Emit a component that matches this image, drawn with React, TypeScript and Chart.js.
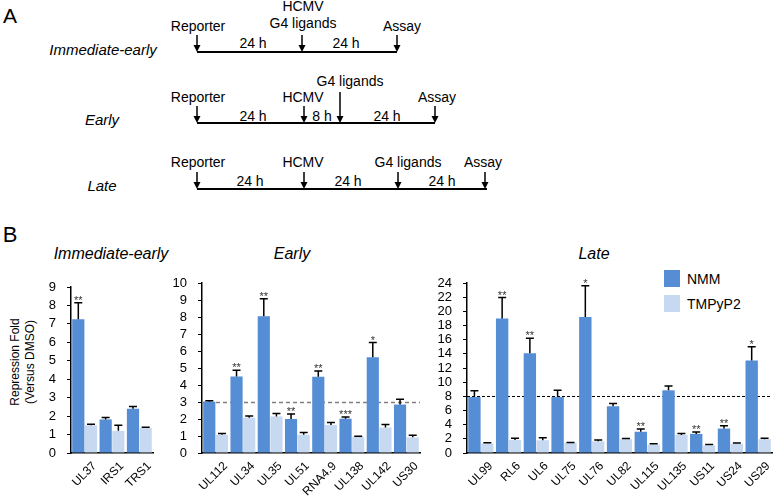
import React, { useEffect, useRef } from 'react';
import { Chart, registerables } from 'chart.js';

Chart.register(...registerables);

const FONT = "'Liberation Sans', Arial, Helvetica, sans-serif";
const NMM_COLOR = '#558ed5';
const TMP_COLOR = '#c6d9f1';

// ---- Immediate-early ----
const ieLabels = ['UL37', 'IRS1', 'TRS1'];
const ieNMM = [7.25, 1.82, 2.4];
const ieNMMTop = [8.15, 1.93, 2.52];
const ieTMP = [1.5, 1.2, 1.35];
const ieTMPTop = [1.56, 1.5, 1.4];
const ieStars = ['**', '', ''];

// ---- Early ----
const earlyLabels = ['UL112', 'UL34', 'UL35', 'UL51', 'RNA4.9', 'UL138', 'UL142', 'US30'];
const earlyNMM = [3.02, 4.5, 8.05, 2.0, 4.48, 2.02, 5.63, 2.85];
const earlyNMMTop = [3.07, 4.87, 9.08, 2.3, 4.83, 2.12, 6.5, 3.16];
const earlyTMP = [1.07, 2.08, 2.15, 1.07, 1.65, 0.95, 1.5, 0.92];
const earlyTMPTop = [1.15, 2.17, 2.32, 1.2, 1.8, 0.98, 1.67, 1.04];
const earlyStars = ['', '**', '**', '**', '**', '***', '*', ''];

// ---- Late ----
const lateLabels = ['UL99', 'RL6', 'UL6', 'UL75', 'UL76', 'UL82', 'UL115', 'UL135', 'US11', 'US24', 'US29'];
const lateNMM = [7.9, 19.0, 14.1, 7.9, 19.2, 6.6, 3.0, 8.85, 2.7, 3.45, 13.05];
const lateNMMTop = [8.8, 21.95, 16.2, 8.85, 23.6, 7.0, 3.4, 9.45, 2.95, 3.85, 15.0];
const lateTMP = [1.35, 1.85, 1.8, 1.45, 1.65, 1.95, 1.2, 2.55, 1.08, 1.3, 1.95];
const lateTMPTop = [1.45, 2.1, 2.15, 1.5, 1.85, 2.05, 1.3, 2.75, 1.2, 1.4, 2.1];
const lateStars = ['', '**', '**', '', '*', '', '**', '', '**', '**', '*'];

const seriesNames = ['NMM', 'TMPyP2'];

const CANVAS_TOP = 240;
const CANVAS_H = 261;
const canvasLefts = [0, 150, 420];
const canvasWidths = [156, 272, 354];

function overlayPlugin(
  nmmTop: number[],
  tmpTop: number[],
  stars: string[],
  refValue: number | null,
  refColor: string,
  refDash: number[],
  refWidth: number
) {
  return {
    id: 'overlay',
    beforeDatasetsDraw(chart: any) {
      if (refValue === null) return;
      const ctx = chart.ctx;
      const area = chart.chartArea;
      const py = Math.round(chart.scales.y.getPixelForValue(refValue)) + 0.5;
      ctx.save();
      ctx.strokeStyle = refColor;
      ctx.lineWidth = refWidth;
      ctx.setLineDash(refDash);
      ctx.beginPath();
      ctx.moveTo(area.left, py);
      ctx.lineTo(area.right, py);
      ctx.stroke();
      ctx.restore();
    },
    afterDatasetsDraw(chart: any) {
      const ctx = chart.ctx;
      const ys = chart.scales.y;
      ctx.save();
      ctx.strokeStyle = '#000';
      ctx.lineWidth = 1.5;
      [nmmTop, tmpTop].forEach((tops, d) => {
        const meta = chart.getDatasetMeta(d);
        meta.data.forEach((el: any, i: number) => {
          const x = el.x;
          const yBar = el.y;
          const yErr = ys.getPixelForValue(tops[i]);
          ctx.beginPath();
          ctx.moveTo(x, yBar);
          ctx.lineTo(x, yErr);
          ctx.moveTo(x - 4, yErr);
          ctx.lineTo(x + 4, yErr);
          ctx.stroke();
        });
      });
      const meta0 = chart.getDatasetMeta(0);
      ctx.fillStyle = '#333';
      ctx.font = `11px ${FONT}`;
      ctx.textAlign = 'center';
      ctx.textBaseline = 'alphabetic';
      meta0.data.forEach((el: any, i: number) => {
        if (!stars[i]) return;
        const yErr = ys.getPixelForValue(nmmTop[i]);
        ctx.fillText(stars[i], el.x, yErr + 1);
      });
      ctx.restore();
    },
  };
}

function makeConfig(
  labels: string[],
  nmm: number[],
  tmp: number[],
  yMax: number,
  step: number,
  yw: number,
  xh: number,
  pt: number,
  pr: number,
  plugin: any
): any {
  return {
    type: 'bar',
    data: {
      labels,
      datasets: [
        { label: seriesNames[0], data: nmm, backgroundColor: NMM_COLOR, barPercentage: 0.96, categoryPercentage: 0.93 },
        { label: seriesNames[1], data: tmp, backgroundColor: TMP_COLOR, barPercentage: 0.96, categoryPercentage: 0.93 },
      ],
    },
    options: {
      responsive: false,
      animation: false,
      devicePixelRatio: 1,
      layout: { padding: { top: pt, right: pr, left: 0, bottom: 0 } },
      plugins: { legend: { display: false }, tooltip: { enabled: false } },
      scales: {
        x: {
          grid: { display: false, drawTicks: false },
          border: { display: true, color: '#000', width: 1.5 },
          ticks: {
            color: '#000',
            font: { size: 12, family: FONT },
            minRotation: 45,
            maxRotation: 45,
            autoSkip: false,
            padding: 6,
            labelOffset: 10,
          },
          afterCalculateLabelRotation: (s: any) => {
            s.labelRotation = 45;
          },
          afterFit: (s: any) => {
            s.height = xh;
            s.paddingLeft = 0;
            s.paddingRight = 0;
          },
        },
        y: {
          min: 0,
          max: yMax,
          ticks: { stepSize: step, autoSkip: false, color: '#000', font: { size: 13, family: FONT }, padding: 11 },
          grid: { display: true, drawOnChartArea: false, drawTicks: true, tickLength: 4, color: '#000' },
          border: { display: true, color: '#000', width: 1.5 },
          afterFit: (s: any) => {
            s.width = yw;
            s.paddingTop = 0;
            s.paddingBottom = 0;
          },
        },
      },
    },
    plugins: [plugin],
  };
}

const Arrow = ({ x, y1, y2 }: { x: number; y1: number; y2: number }) => (
  <g>
    <line x1={x} y1={y1} x2={x} y2={y2 - 6} stroke="#000" strokeWidth={1.5} />
    <polygon points={`${x - 3.5},${y2 - 7} ${x + 3.5},${y2 - 7} ${x},${y2}`} fill="#000" />
  </g>
);

const T = ({ x, y, children, size = 14, italic = false, anchor = 'middle' }: any) => (
  <text
    x={x}
    y={y}
    textAnchor={anchor}
    dominantBaseline="central"
    fontSize={size}
    fontStyle={italic ? 'italic' : 'normal'}
    fill="#000"
    fontFamily={FONT}
  >
    {children}
  </text>
);

export default function App() {
  const r1 = useRef<HTMLCanvasElement>(null);
  const r2 = useRef<HTMLCanvasElement>(null);
  const r3 = useRef<HTMLCanvasElement>(null);

  useEffect(() => {
    const charts = [
      new Chart(
        r1.current!,
        makeConfig(ieLabels, ieNMM, ieTMP, 9, 1, 71, 48, 47, 3,
          overlayPlugin(ieNMMTop, ieTMPTop, ieStars, null, '#000', [], 1))
      ),
      new Chart(
        r2.current!,
        makeConfig(earlyLabels, earlyNMM, earlyTMP, 10, 1, 52, 48, 43, 2,
          overlayPlugin(earlyNMMTop, earlyTMPTop, earlyStars, 3, '#808080', [4, 3], 1.5))
      ),
      new Chart(
        r3.current!,
        makeConfig(lateLabels, lateNMM, lateTMP, 24, 2, 47, 48, 43, 2,
          overlayPlugin(lateNMMTop, lateTMPTop, lateStars, 8, '#000', [3, 2], 1))
      ),
    ];
    return () => charts.forEach((c) => c.destroy());
  }, []);

  const cv = (ci: number) => ({
    position: 'absolute' as const,
    left: canvasLefts[ci],
    top: CANVAS_TOP,
    width: canvasWidths[ci],
    height: CANVAS_H,
  });

  return (
    <div style={{ position: 'absolute', left: 0, top: 0, width: 774, height: 501, background: '#fff', overflow: 'hidden', fontFamily: FONT }}>
      <svg width={774} height={501} style={{ position: 'absolute', left: 0, top: 0 }}>
        {/* Panel A */}
        <T x={10} y={15} size={21}>A</T>
        {/* Immediate-early */}
        <T x={103} y={49} size={15} italic>Immediate-early</T>
        <line x1={197} y1={52} x2={397} y2={52} stroke="#000" strokeWidth={2} />
        <Arrow x={197} y1={35} y2={52} />
        <Arrow x={302} y1={35} y2={52} />
        <Arrow x={397} y1={35} y2={52} />
        <T x={198} y={26}>Reporter</T>
        <T x={303} y={6}>HCMV</T>
        <T x={303} y={23}>G4 ligands</T>
        <T x={402} y={26}>Assay</T>
        <T x={253} y={43}>24 h</T>
        <T x={346} y={43}>24 h</T>
        {/* Early */}
        <T x={102} y={119} size={15} italic>Early</T>
        <line x1={197} y1={123} x2={435} y2={123} stroke="#000" strokeWidth={2} />
        <Arrow x={197} y1={106} y2={123} />
        <Arrow x={304} y1={106} y2={123} />
        <Arrow x={340} y1={92} y2={123} />
        <Arrow x={435} y1={106} y2={123} />
        <T x={198} y={97}>Reporter</T>
        <T x={303} y={97}>HCMV</T>
        <T x={350} y={81}>G4 ligands</T>
        <T x={437} y={97}>Assay</T>
        <T x={253} y={116}>24 h</T>
        <T x={322} y={116}>8 h</T>
        <T x={387} y={116}>24 h</T>
        {/* Late */}
        <T x={102} y={185} size={15} italic>Late</T>
        <line x1={197} y1={189} x2={487} y2={189} stroke="#000" strokeWidth={2} />
        <Arrow x={197} y1={172} y2={189} />
        <Arrow x={304} y1={172} y2={189} />
        <Arrow x={398} y1={172} y2={189} />
        <Arrow x={485} y1={172} y2={189} />
        <T x={198} y={162}>Reporter</T>
        <T x={303} y={162}>HCMV</T>
        <T x={408} y={162}>G4 ligands</T>
        <T x={483} y={162}>Assay</T>
        <T x={250} y={181}>24 h</T>
        <T x={348} y={181}>24 h</T>
        <T x={442} y={181}>24 h</T>

        {/* Panel B */}
        <T x={10} y={234} size={22}>B</T>
        <T x={111} y={253} size={16} italic>Immediate-early</T>
        <T x={292} y={253} size={16} italic>Early</T>
        <T x={594} y={253} size={16} italic>Late</T>
        <g transform="rotate(-90 15 362)">
          <T x={15} y={362} size={12}>Repression Fold</T>
        </g>
        <g transform="rotate(-90 30 362)">
          <T x={30} y={362} size={12}>(Versus DMSO)</T>
        </g>
        {/* Legend */}
        <rect x={664} y={270} width={16} height={17} fill={NMM_COLOR} />
        <rect x={664} y={295} width={16} height={17} fill={TMP_COLOR} />
        <T x={687} y={279} size={14} anchor="start">{seriesNames[0]}</T>
        <T x={687} y={304} size={14} anchor="start">{seriesNames[1]}</T>
      </svg>
      <canvas ref={r1} width={canvasWidths[0]} height={CANVAS_H} style={cv(0)} />
      <canvas ref={r2} width={canvasWidths[1]} height={CANVAS_H} style={cv(1)} />
      <canvas ref={r3} width={canvasWidths[2]} height={CANVAS_H} style={cv(2)} />
    </div>
  );
}
